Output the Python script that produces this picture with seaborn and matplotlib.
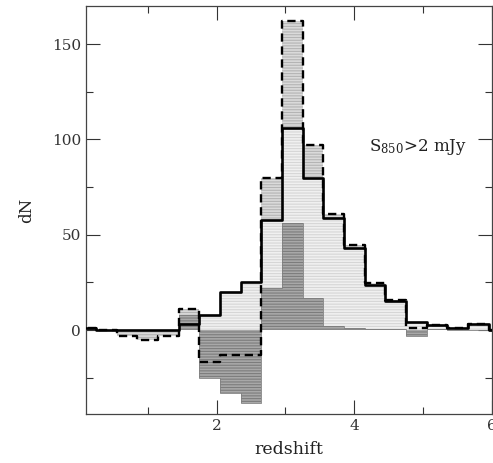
import numpy as np
import pandas as pd
import matplotlib
matplotlib.use("Agg")
import matplotlib.pyplot as plt
import seaborn as sns

# bin edges (redshift)
bin_edges = [-0.05, 0.25, 0.55, 0.85, 1.15, 1.45, 1.75, 2.05, 2.35, 2.65, 2.95,
             3.25, 3.55, 3.85, 4.15, 4.45, 4.75, 5.05, 5.35, 5.65, 5.95, 6.25]
# solid histogram
solid_dN = [1, 0, 0, 0, 0, 3, 8, 20, 25, 58, 106, 80, 59, 43, 23.5, 15.5, 4, 2.5, 1, 3, 0]
# dashed histogram
dashed_dN = [1, 0, -3, -5, -3, 11, -17, -13, -13, 80, 162, 97, 61, 44.5, 24.5, 16, 1, 2.8, 1, 3, 0]
# dark histogram
dark_dN = [0.7, 0, 0, 0, 0, 8, -25, -33, -38.5, 22, 56, 17, 2, 1, 0.7, 0.7, -3, 0.5, 0, 0, 0]

x_ticks_major = [2, 4, 6]
y_ticks_major = [0, 50, 100, 150]
label_text = r"S$_{850}$>2 mJy"

sns.set_style("ticks")
plt.rcParams["font.family"] = ["DejaVu Serif"]
plt.rcParams["mathtext.fontset"] = "dejavuserif"
plt.rcParams["hatch.linewidth"] = 0.8

fig = plt.figure(figsize=(4.93, 4.63), dpi=100)
ax = fig.add_axes([0.174, 0.106, 0.824, 0.881])

edges = np.array(bin_edges)
A = np.array(solid_dN, dtype=float)
B = np.array(dashed_dN, dtype=float)
C = np.array(dark_dN, dtype=float)

# medium gray between solid and dashed
ax.stairs(B, edges, baseline=A, fill=True, facecolor="#dadada",
          edgecolor="#b4b4b4", hatch="------", linewidth=0, zorder=1)
# light gray under solid
ax.stairs(A, edges, baseline=0, fill=True, facecolor="#f0f0f0",
          edgecolor="#d6d6d6", hatch="------", linewidth=0, zorder=2)
# dark gray region
ax.stairs(C, edges, baseline=0, fill=True, facecolor="#a8a8a8",
          edgecolor="#7c7c7c", hatch="------", linewidth=0, zorder=3)
ax.stairs(C, edges, baseline=None, color="#808080", linewidth=0.6, zorder=3.5)

# step lines via seaborn
xs = list(bin_edges)
df_solid = pd.DataFrame({"z": xs, "dN": solid_dN + [solid_dN[-1]]})
df_dash = pd.DataFrame({"z": xs, "dN": dashed_dN + [dashed_dN[-1]]})
sns.lineplot(data=df_dash, x="z", y="dN", drawstyle="steps-post", color="black",
             linewidth=1.7, linestyle=(0, (3.5, 2.0)), ax=ax, zorder=5, sort=False)
sns.lineplot(data=df_solid, x="z", y="dN", drawstyle="steps-post", color="black",
             linewidth=1.9, ax=ax, zorder=6, sort=False)

ax.set_xlim(0.1, 6.0)
ax.set_ylim(-44, 170)
ax.set_xticks(x_ticks_major)
ax.set_xticks([1, 3, 5], minor=True)
ax.set_yticks(y_ticks_major)
ax.set_yticks([-25, 25, 75, 125], minor=True)
ax.tick_params(which="both", direction="in", top=True, right=True,
               labelsize=11, colors="#333333")
ax.tick_params(which="major", length=10, width=0.8)
ax.tick_params(which="minor", length=5, width=0.8)
for s in ax.spines.values():
    s.set_linewidth(0.9)
    s.set_color("#444444")

ax.set_xlabel("redshift", fontsize=12.5, color="#222222", labelpad=6)
ax.set_ylabel("dN", fontsize=12, color="#222222", labelpad=12)
ax.text(4.22, 96, label_text, fontsize=12, color="#222222",
        ha="left", va="center")

fig.savefig("out.png", dpi=100)
